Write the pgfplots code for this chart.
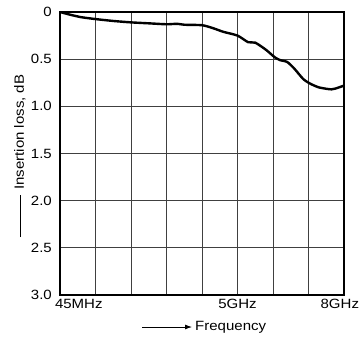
\documentclass[border=0pt]{standalone}
\usepackage{pgfplots}
\pgfplotsset{compat=1.18}
\usepackage{fontspec}
\setmainfont[FakeStretch=1.12]{Liberation Sans}
\usetikzlibrary{arrows.meta}
\newcommand{\lblfont}{\fontsize{13.4bp}{16bp}\selectfont}
\begin{document}
\begin{tikzpicture}
\begin{axis}[
  name=ax,
  scale only axis,
  width=284bp, height=283bp,
  xmin=0, xmax=8, ymin=0, ymax=3,
  y dir=reverse,
  axis line style={line width=1.6bp},
  grid=major,
  grid style={black!75, line width=0.8bp},
  major tick length=0pt,
  xtick={0,1,2,3,4,5,6,7,8},
  xticklabels={\makebox[0pt][l]{\hspace{-5bp}45MHz},,,,,5GHz,,,\makebox[0pt][r]{8GHz\hspace{-15bp}}},
  ytick={0,0.5,1,1.5,2,2.5,3},
  yticklabels={0,0.5,1.0,1.5,2.0,2.5,3.0},
  /pgf/number format/assume math mode=true,
  tick label style={font=\lblfont},
  yticklabel style={inner sep=0pt, xshift=-8bp},
  xticklabel style={inner sep=0pt, yshift=-4bp},
]
\addplot[black, line width=2.4bp, smooth, tension=0.4] coordinates {
(0,0) (0.3,0.03) (0.6,0.055) (1,0.075) (1.5,0.095) (2,0.11) (2.5,0.12) (3,0.13) (3.3,0.125) (3.5,0.135) (4,0.14) (4.3,0.17) (4.6,0.21) (5,0.25) (5.3,0.32) (5.5,0.325) (5.8,0.40) (6.05,0.48) (6.2,0.51) (6.4,0.53) (6.6,0.60) (6.85,0.71) (7.05,0.76) (7.3,0.80) (7.65,0.82) (7.85,0.80) (8,0.78)
};
\end{axis}
\node[font=\lblfont, anchor=west, inner sep=0pt] at ([xshift=135bp,yshift=-32bp]ax.south west) {Frequency};
\draw[-{Latex[length=7bp,width=5bp]}, line width=0.8bp] ([xshift=82bp,yshift=-32bp]ax.south west) -- ++(50bp,0);
\node[font=\lblfont, rotate=90, anchor=west, inner sep=0pt] at ([xshift=-40bp,yshift=105bp]ax.south west) {Insertion loss, dB};
\draw[line width=0.8bp] ([xshift=-40bp,yshift=58bp]ax.south west) -- ++(0,42bp);
\pgfresetboundingbox
\useasboundingbox ([xshift=-60bp,yshift=-44bp]ax.south west) rectangle ([xshift=16bp,yshift=12bp]ax.north east);
\end{tikzpicture}
\end{document}
